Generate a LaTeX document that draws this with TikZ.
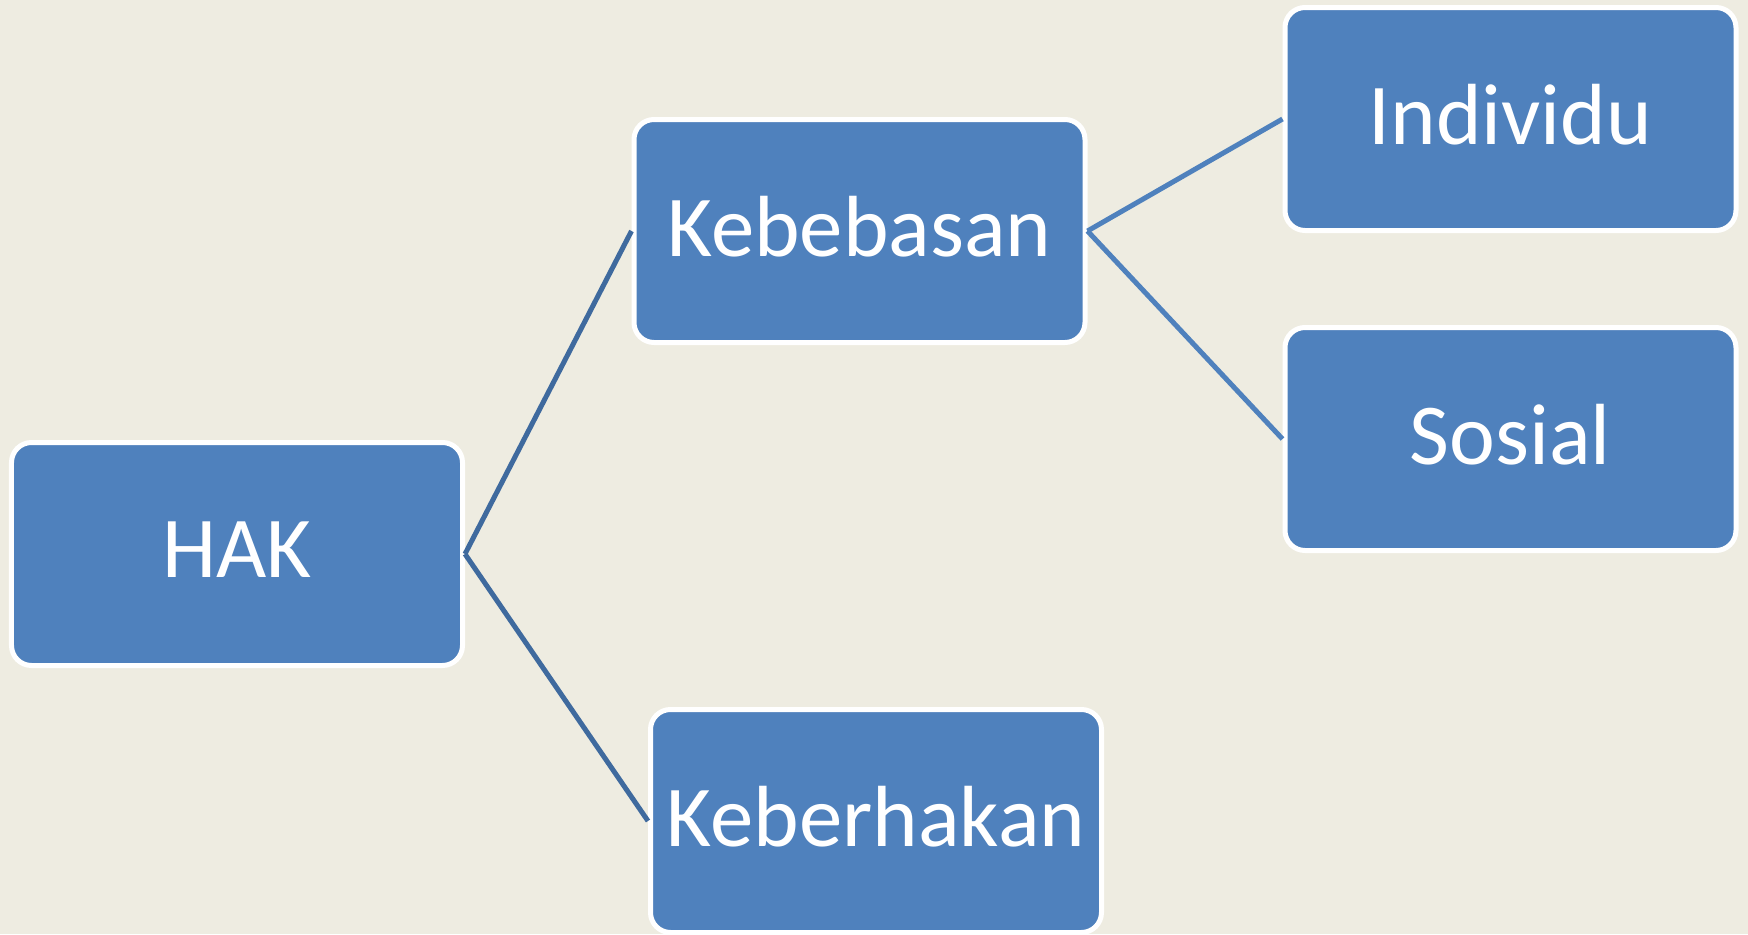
\documentclass[tikz,border=0pt]{standalone}
\usepackage{fontspec}
\setmainfont{Carlito}
\usepackage{xcolor}
\usepackage{tikz}

\definecolor{paper}{HTML}{EEECE1}
\definecolor{boxblue}{HTML}{4F81BD}
\definecolor{darkline}{HTML}{3F6A9E}

\begin{document}
\begin{tikzpicture}
        \tikzset{box style/.style={draw=white, line width=0.5mm, rectangle, rounded corners=0.2cm, fill=boxblue, text=white, minimum width=4.51cm, minimum height=2.23cm, text depth=2.5pt, font=\fontsize{24.7}{29}\selectfont}}
        \tikzset{line style/.style={line width=0.5mm, color=boxblue}}

        \useasboundingbox (0,0) rectangle (17.48,9.34);
        \fill[paper] (0,0) rectangle (17.48,9.34);

        \node[box style] (hak) at (2.37, 3.80) {HAK};
        \node[box style] (kebebasan) at (8.595, 7.03) {Kebebasan};
        \node[box style] (keberhakan) at (8.76, 1.13) {Keberhakan};
        \node[box style] (individu) at (15.105, 8.15) {Individu};
        \node[box style] (sosial) at (15.105, 4.95) {Sosial};

        \draw[line style, color=darkline] (hak.east) -- (kebebasan.west);
        \draw[line style, color=darkline] (hak.east) -- (keberhakan.west);
        \draw[line style] (kebebasan.east) -- (individu.west);
        \draw[line style] (kebebasan.east) -- (sosial.west);
    \end{tikzpicture}
\end{document}
